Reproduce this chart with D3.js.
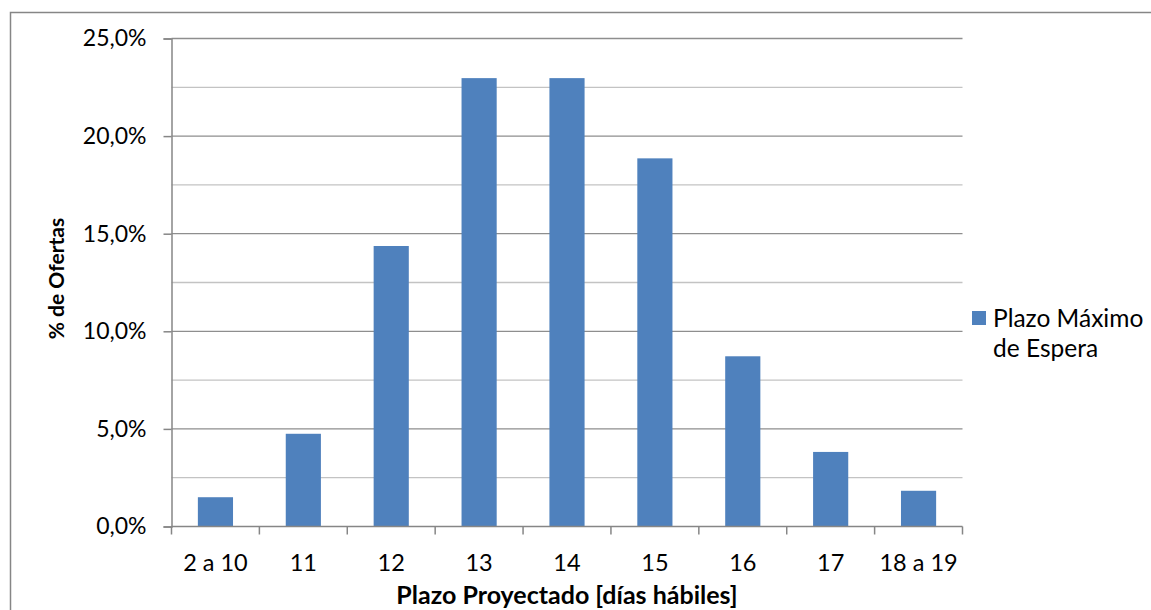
<!DOCTYPE html>
<html>
<head>
<meta charset="utf-8">
<script src="https://cdn.jsdelivr.net/npm/d3@7"></script>
<style>
  html, body { margin: 0; padding: 0; background: #fff; }
  svg { display: block; font-family: Lato, "Open Sans", sans-serif; }
</style>
</head>
<body>
<svg id="chart" width="1151" height="610"></svg>
<script>
// Distribution of offers by projected term (working days)
const categories = ["2 a 10", "11", "12", "13", "14", "15", "16", "17", "18 a 19"];
const values = [1.50, 4.75, 14.37, 22.97, 22.97, 18.86, 8.72, 3.82, 1.83];
const majorTicks = [0, 5, 10, 15, 20, 25];
const minorTicks = [2.5, 7.5, 12.5, 17.5, 22.5];
const seriesName = ["Plazo Máximo", "de Espera"];
const xTitle = "Plazo Proyectado [días hábiles]";
const yTitle = "% de Ofertas";

const svg = d3.select("#chart");
const W = 1151, H = 610;
const m = { left: 171.5, right: 962.5, top: 38.5, bottom: 526.5 };

// chart area frame
svg.append("rect")
  .attr("x", 10.5).attr("y", 12.5)
  .attr("width", W + 20).attr("height", H + 20)
  .attr("fill", "#fff").attr("stroke", "#868686").attr("stroke-width", 1.5);

const x = d3.scaleBand().domain(categories).range([m.left, m.right]).paddingInner(0.6).paddingOuter(0.3);
const xb = d3.scaleBand().domain(categories).range([m.left, m.right]);
const y = d3.scaleLinear().domain([0, 25]).range([m.bottom, m.top]);

const fmt = v => d3.format(".1f")(v).replace(".", ",") + "%";

// gridlines
svg.append("g").selectAll("line").data(minorTicks).join("line")
  .attr("x1", m.left).attr("x2", m.right)
  .attr("y1", d => y(d)).attr("y2", d => y(d))
  .attr("stroke", "#c3c3c3").attr("stroke-width", 1.3);
svg.append("g").selectAll("line").data(majorTicks.filter(d => d > 0)).join("line")
  .attr("x1", m.left).attr("x2", m.right)
  .attr("y1", d => y(d)).attr("y2", d => y(d))
  .attr("stroke", "#8e8e8e").attr("stroke-width", 1.3);

// bars
svg.append("g").selectAll("rect").data(values).join("rect")
  .attr("x", (d, i) => x(categories[i]))
  .attr("width", x.bandwidth())
  .attr("y", d => y(d))
  .attr("height", d => y(0) - y(d))
  .attr("fill", "#4f81bd");

// y axis
const yAxis = d3.axisLeft(y).tickValues(majorTicks).tickSize(8).tickPadding(17).tickFormat(fmt);
const gy = svg.append("g").attr("transform", `translate(${m.left},0)`).call(yAxis);
gy.select(".domain").attr("stroke", "#868686").attr("stroke-width", 1.5);
gy.selectAll(".tick line").attr("stroke", "#868686").attr("stroke-width", 1.5);
gy.selectAll(".tick text").attr("font-size", 23).attr("fill", "#000").attr("font-family", "Lato");

// x axis: ticks sit on category boundaries
const gx = svg.append("g").attr("transform", `translate(0,${m.bottom})`);
gx.append("line").attr("x1", m.left).attr("x2", m.right).attr("stroke", "#868686").attr("stroke-width", 1.5);
const bounds = categories.map(c => xb(c)).concat([m.right]);
gx.selectAll("line.t").data(bounds).join("line").attr("class", "t")
  .attr("x1", d => d).attr("x2", d => d).attr("y1", 0).attr("y2", 8)
  .attr("stroke", "#868686").attr("stroke-width", 1.5);
gx.selectAll("text").data(categories).join("text")
  .attr("x", d => xb(d) + xb.bandwidth() / 2).attr("y", 44)
  .attr("text-anchor", "middle").attr("font-size", 23.5).attr("fill", "#000")
  .text(d => d);

// axis titles
svg.append("text")
  .attr("x", (m.left + m.right) / 2).attr("y", 604)
  .attr("text-anchor", "middle").attr("font-size", 25).attr("font-weight", "bold")
  .text(xTitle);
svg.append("text")
  .attr("transform", `translate(64,${(m.top + m.bottom) / 2 - 4}) rotate(-90)`)
  .attr("text-anchor", "middle").attr("font-size", 21).attr("font-weight", "bold")
  .text(yTitle);

// legend
const lg = svg.append("g");
lg.append("rect").attr("x", 972).attr("y", 311).attr("width", 14).attr("height", 14).attr("fill", "#4f81bd");
lg.selectAll("text").data(seriesName).join("text")
  .attr("x", 993).attr("y", (d, i) => 327 + i * 30)
  .attr("font-size", 24.5).attr("fill", "#000")
  .text(d => d);
</script>
</body>
</html>
